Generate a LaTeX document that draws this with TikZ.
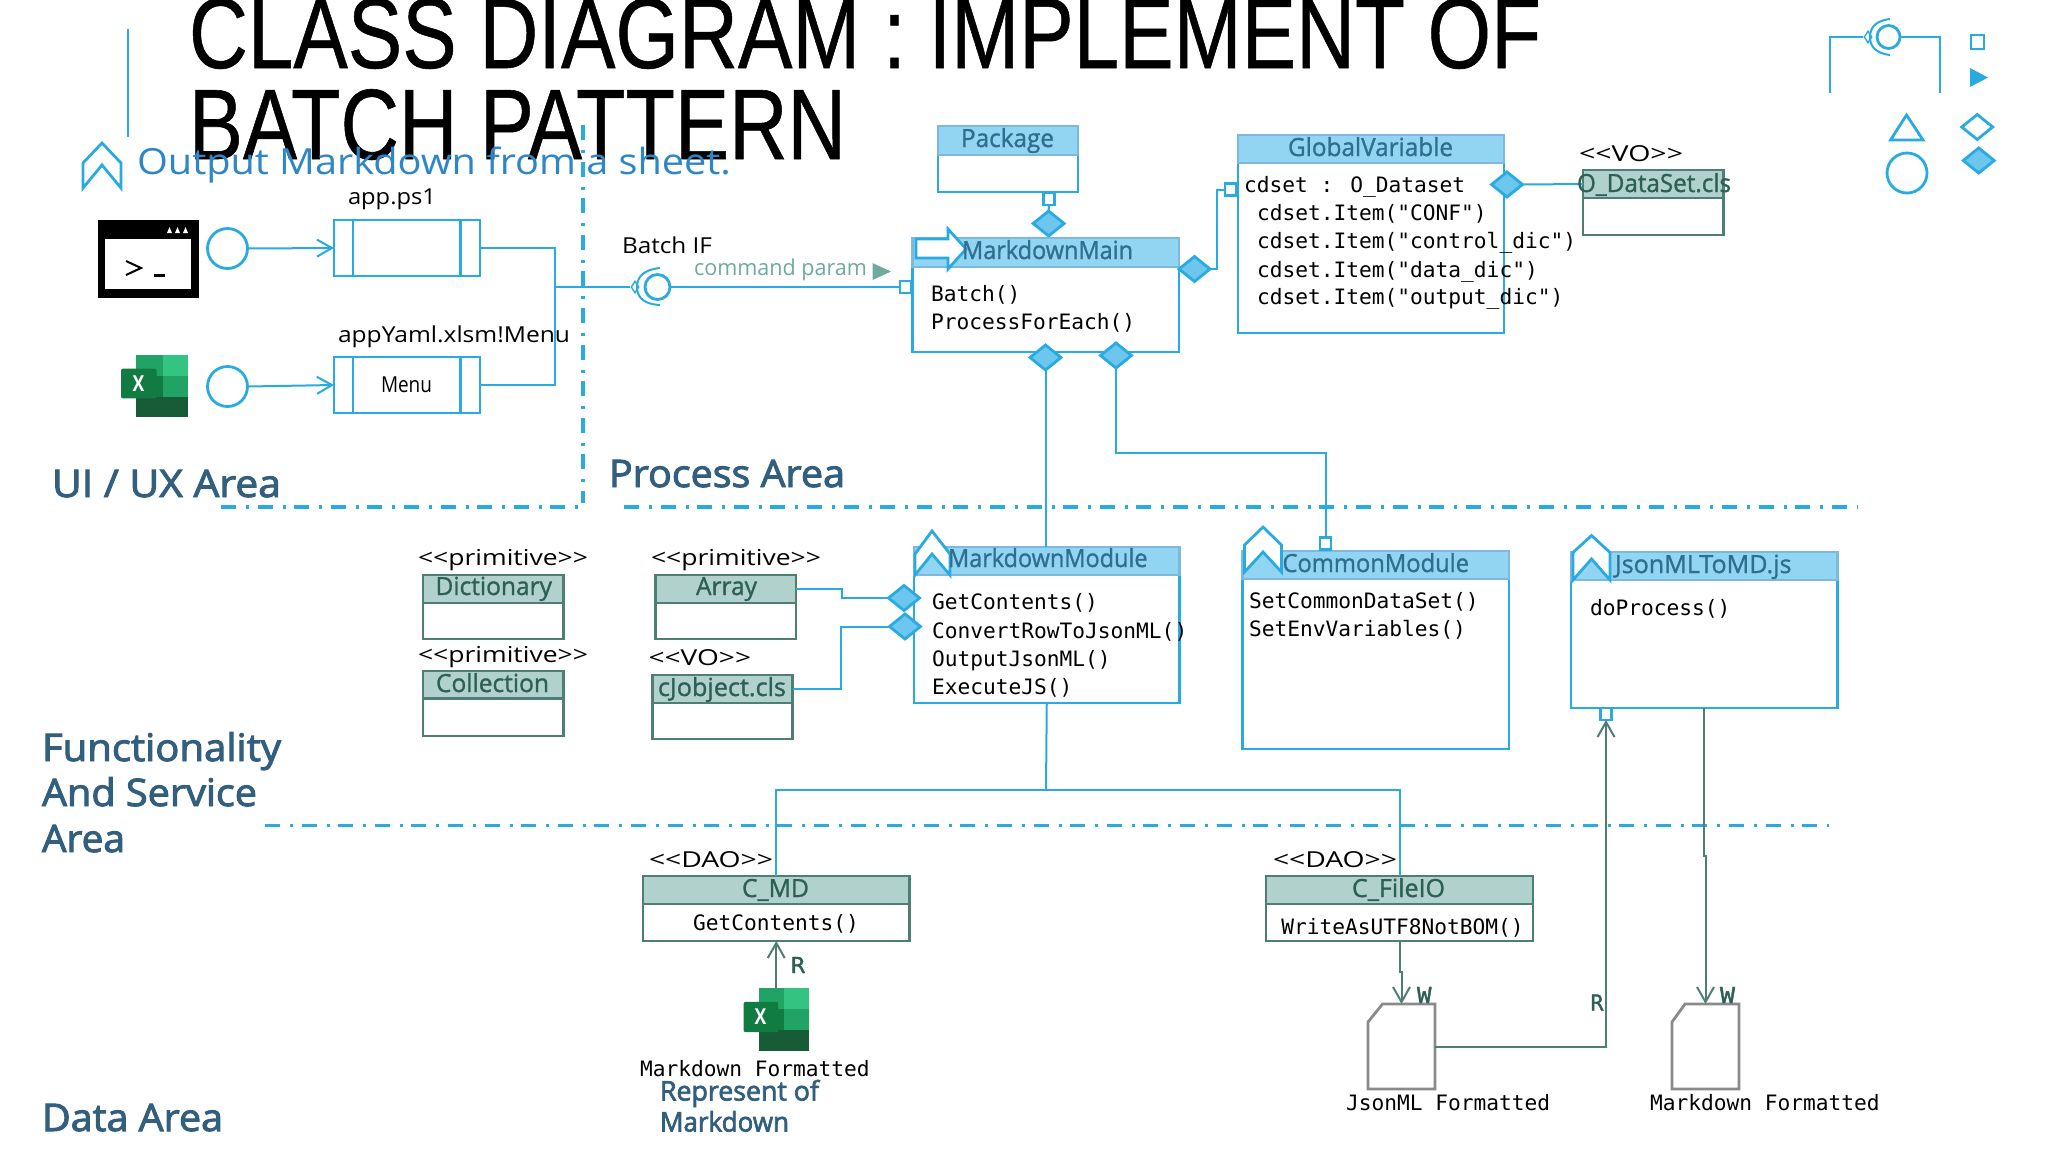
\documentclass[tikz,border=0pt]{standalone}
\usepackage{graphicx}
\usepackage{fontspec}
\usetikzlibrary{shapes.geometric,arrows.meta}
\newfontfamily\ftit{Liberation Sans}[FakeBold=0.6]
\newfontfamily\fsan{Open Sans}
\newfontfamily\fhed{Open Sans}[FakeBold=1.2]
\newfontfamily\fsec{Open Sans}[FakeBold=2.5]
\newfontfamily\fmon{DejaVu Sans Mono}
\newfontfamily\fmob{DejaVu Sans Mono}[FakeBold=1.5]
\definecolor{bl}{HTML}{29ABE2}
\definecolor{hb}{HTML}{92D5F3}
\definecolor{hbb}{HTML}{7DB9DC}
\definecolor{df}{HTML}{6CC6EE}
\definecolor{ht}{HTML}{2F6E90}
\definecolor{gh}{HTML}{B1D2CC}
\definecolor{gb}{HTML}{4F7F74}
\definecolor{gt}{HTML}{2E5F55}
\definecolor{sc}{HTML}{325F7D}
\definecolor{ou}{HTML}{2E86C7}
\definecolor{cp}{HTML}{6FAA9C}
\definecolor{dg}{HTML}{8A8A8A}
\tikzset{
  txt/.style={anchor=base west,inner sep=0pt,outer sep=0pt},
  title/.style={txt,font=\ftit\fontsize{50}{52}\selectfont,text=black},
  sect/.style={txt,font=\fsec\fontsize{19}{22}\selectfont,text=sc},
  outp/.style={txt,font=\fsan\fontsize{18}{22}\selectfont,text=ou},
  lab/.style={txt,font=\fsan\fontsize{11}{12}\selectfont,text=black},
  mono/.style={txt,font=\fmon\fontsize{10.6}{12}\selectfont,text=black},
  headb/.style={txt,font=\fhed\fontsize{12.5}{14}\selectfont,text=ht},
  headg/.style={txt,font=\fhed\fontsize{12.5}{14}\selectfont,text=gt},
  rw/.style={txt,font=\fmob\fontsize{11}{12}\selectfont,text=gt},
  bodyB/.style={draw=bl,fill=white,line width=1.4pt},
  bodyG/.style={draw=gb,fill=white,line width=1.4pt},
  headB/.style={draw=hbb,fill=hb,line width=1.4pt},
  headG/.style={draw=gb,fill=gh,line width=1.4pt},
  conn/.style={draw=bl,line width=1pt},
  gconn/.style={draw=gb,line width=1pt},
  barb/.style={-{Straight Barb[length=7.5pt,width=8.5pt,line width=1pt]}},
  dadot/.style={draw=bl,line width=1.8pt,dash pattern=on 7.5pt off 5pt on 1.5pt off 4.3pt},
  dia/.style={shape=diamond,draw=bl,fill=df,line width=1.4pt,inner sep=0pt,outer sep=0pt,minimum width=15.5pt,minimum height=12.5pt},
  sqr/.style={draw=bl,fill=white,line width=1.4pt,inner sep=0pt,outer sep=0pt,minimum width=5.5pt,minimum height=6pt},
  circ/.style={shape=circle,draw=bl,fill=white,line width=1.4pt,inner sep=0pt,outer sep=0pt,minimum size=20pt},
  chev/.style={draw=bl,fill=white,line width=1.4pt,line join=miter},
  hid/.style={inner sep=0pt,outer sep=0pt},
}
\newcommand\tlab[6][lab]{%
  \pgfmathsetlengthmacro\wtmp{(#4-#3)*0.5pt}%
  \node[#1] (#2) at (#3,#5) {\resizebox{\wtmp}{\height}{#6}};}
\newcommand\rectn[7][]{% style name x1 x2 y1 y2
  \node[anchor=north west,inner sep=0pt,outer sep=0pt,minimum width={(#4-#3)*0.5pt},minimum height={(#6-#5)*0.5pt},#1] (#2) at (#3,#5) {};}
\newcommand\classb[7]{% kind name x1 x2 ytop ymid ybot
  \rectn[body#1]{#2B}{#3}{#4}{#6}{#7}{}
  \rectn[head#1]{#2H}{#3}{#4}{#5}{#6}{}}
\newcommand\chevron[8]{% x1 xm x2 ytop yshoulder ynotch ybot
  \draw[chev] (#1,#7) -- (#1,#5) -- (#2,#4) -- (#3,#5) -- (#3,#7) -- (#2,#6) -- cycle;}
\newcommand\excelicon[5]{%
  \rectn{#1}{#2}{#4}{#3}{#5}{}
  \begin{scope}[shift={(#2,#3)},xscale={(#4-#2)/100},yscale={(#5-#3)/100}]
    \fill[fill={rgb,255:red,33;green,163;blue,102}] (23,0) rectangle (62,34);
    \fill[fill={rgb,255:red,51;green,196;blue,129}] (62,0) rectangle (100,34);
    \fill[fill={rgb,255:red,16;green,124;blue,65}] (23,34) rectangle (62,67);
    \fill[fill={rgb,255:red,33;green,163;blue,102}] (62,34) rectangle (100,67);
    \fill[fill={rgb,255:red,24;green,92;blue,55}] (23,67) rectangle (100,100);
    \fill[fill={rgb,255:red,16;green,124;blue,65},rounded corners=1pt] (0,22) rectangle (53,70);
    \node[hid,text=white,font=\fsan\bfseries\fontsize{11}{11}\selectfont] (#1x) at (26,46) {\scalebox{0.8}[1]{X}};
  \end{scope}}
\newcommand\docn[4]{% name x1 x2 ycorner
  \draw[draw=dg,fill=white,line width=1.4pt] (#3,1004) -- (#4,1004) -- (#2,1022) -- (#2,1089) -- (#3,1089) -- cycle;
  }
\begin{document}
\begin{tikzpicture}[x=0.5pt,y=-0.5pt]
\useasboundingbox[fill=white] (0,0) rectangle (2048,1152);
% title
\draw[draw=bl,line width=1.4pt] (128,29) -- (128,137);
\tlab[title]{t1}{189}{1541}{68}{CLASS DIAGRAM : IMPLEMENT OF}
\tlab[title]{t2}{189}{846}{159}{BATCH PATTERN}
\draw[chev,fill=none] (83,188) -- (83,163) -- (102,143) -- (121,163) -- (121,188) -- (102,165) -- cycle;
\tlab[outp]{t3}{137}{731}{174}{Output Markdown from a sheet.}
% section lines
\draw[dadot] (583,125) -- (583,503);
\draw[dadot] (221,507) -- (578,507);
\draw[dadot] (624,507) -- (1858,507);
\draw[dadot] (265,825.5) -- (1829,825.5);
% section labels
\tlab[sect]{s1}{52}{281}{497}{UI / UX Area}
\tlab[sect]{s2}{609}{845}{487}{Process Area}
\tlab[sect]{s3}{42}{281}{761}{Functionality}
\tlab[sect]{s4}{42}{257}{806}{And Service}
\tlab[sect]{s5}{42}{125}{852}{Area}
\tlab[sect]{s6}{42}{223}{1131}{Data Area}
% terminal icon
\rectn[fill=black]{term}{98}{198.5}{220}{298}{}
\fill[white] (104.5,239) rectangle (191,289);
\fill[white] (167,233) -- (169.5,227) -- (172,233) -- cycle (175,233) -- (177.5,227) -- (180,233) -- cycle (183,233) -- (185.5,227) -- (188,233) -- cycle;
\draw[black,line width=1pt] (126,261) -- (141,268) -- (126,275);
\fill[black] (153.5,273.5) rectangle (165,277);
% excel
\excelicon{xlA}{121}{355}{188}{417}
% UI boxes
\node[circ] (c1) at (227.5,248.5) {};
\node[circ] (c2) at (227.5,386.5) {};
\rectn[bodyB]{appBox}{334}{480}{220}{276}{}
\rectn[bodyB]{menuBox}{334}{480}{357}{413}{}
\draw[draw=bl,line width=1.4pt] (353,220) -- (353,276) (460.5,220) -- (460.5,276) (353,357) -- (353,413) (460.5,357) -- (460.5,413);
\tlab{lApp}{348}{436}{204}{app.ps1}
\tlab{lYaml}{338}{570}{342}{appYaml.xlsm!Menu}
\tlab{lMenu}{381}{432}{392}{Menu}
\draw[conn,barb] (c1.east) -- (appBox.west);
\draw[conn,barb] (c2.east) -- (menuBox.west);
% socket
\coordinate (bus) at (554.5,287);
\node[circ,minimum size=12.5pt] (sock) at (657.5,287) {};
\node[shape=diamond,draw=bl,fill=white,line width=.7pt,inner sep=0pt,minimum width=4pt,minimum height=6pt] (sockD) at (635,287) {};
\draw[draw=bl,line width=1pt] (660,268) .. controls (640,270) and (637,280) .. (637,287) .. controls (637,294) and (640,304) .. (660,305);
\draw[conn] (appBox.east) -| (bus);
\draw[conn] (menuBox.east) -| (bus);
\draw[conn] (bus) -- (sockD.west);
\tlab{lBatch}{622}{712}{253}{Batch IF}
\tlab[txt,font=\fsan\fontsize{11}{12}\selectfont,text=cp]{lCmd}{694}{867}{275}{command param}
\fill[cp] (872.5,263) -- (891,271.5) -- (872.5,280) -- cycle;
% Package
\classb{B}{pkg}{938}{1078}{126}{155}{192}
\tlab[headb]{lPkg}{961}{1054}{147}{Package}
\node[sqr] (sqPkg) at (1049,199) {};
\node[dia] (dPkg) at (1048.6,223.5) {};
\draw[conn] (sqPkg.south) -- (dPkg.north);
% Main
\classb{B}{main}{912.5}{1179}{238}{267}{352}
\node[sqr] (sqMain) at (905.5,287) {};
\draw[conn] (sock.east) -- (sqMain.west);
\draw[draw=bl,fill=white,line width=1.4pt] (916,239) -- (948,239) -- (948,229) -- (966,249) -- (948,269) -- (948,258) -- (916,258) -- cycle;
\tlab[headb]{lMain}{962}{1133}{259}{MarkdownMain}
\node[mono] (mBatch) at (931,301.5) {Batch()};
\node[mono] (mPFE) at (931,329) {ProcessForEach()};
\node[dia] (dMainA) at (1045.5,357.5) {};
\node[dia] (dMainB) at (1116,355.5) {};
\node[dia] (dMainC) at (1194.5,269) {};
% GlobalVariable
\classb{B}{gv}{1238}{1504}{135}{163}{333}
\tlab[headb]{lGV}{1288}{1453}{156}{GlobalVariable}
\node[sqr] (sqGV) at (1230.5,189.5) {};
\coordinate (k1) at (1217,269);
\draw[conn] (dMainC.east) -- (k1) |- (sqGV.west);
\node[mono] (g1) at (1244,192) {cdset : O\_Dataset};
\node[mono] (g2) at (1257,220) {cdset.Item("CONF")};
\node[mono] (g3) at (1257,248) {cdset.Item("control\_dic")};
\node[mono] (g4) at (1257,277) {cdset.Item("data\_dic")};
\node[mono] (g5) at (1257,304) {cdset.Item("output\_dic")};
\node[dia] (dGV) at (1507,184.5) {};
% O_DataSet
\classb{G}{ds}{1583}{1723.5}{170}{198}{235}
\draw[conn] (dGV.east) -- (dsH.west);
\tlab{lVO1}{1579}{1683}{161}{{<}{<}VO{>}{>}}
\tlab[headg]{lDS}{1577}{1731}{192}{O\_DataSet.cls}
% legend
\coordinate (le1) at (1830,93);
\coordinate (le2) at (1940,93);
\node[circ,minimum size=11.5pt] (leC) at (1888.5,37) {};
\node[shape=diamond,draw=bl,fill=white,line width=.7pt,inner sep=0pt,minimum width=4pt,minimum height=6pt] (leD) at (1868,37) {};
\draw[draw=bl,line width=1pt] (1890,19) .. controls (1873,21) and (1870,30) .. (1870,37) .. controls (1870,44) and (1873,53) .. (1890,55);
\draw[conn] (le1) |- (leD.west);
\draw[conn] (le2) |- (leC.east);
\node[sqr,minimum width=6.5pt,minimum height=7pt] (leS) at (1977.5,42) {};
\fill[bl] (1970,68) -- (1988,77.5) -- (1970,87) -- cycle;
\draw[draw=bl,line width=1.4pt] (1906.5,115) -- (1923,140) -- (1890.5,140) -- cycle;
\node[dia,fill=white] (leD1) at (1977.2,127) {};
\node[dia] (leD2) at (1978.7,160.5) {};
\node[circ] (leC2) at (1907,173) {};
% primitives
\tlab{lp1}{418}{588}{565}{{<}{<}primitive{>}{>}}
\classb{G}{dict}{423}{563.5}{575}{603}{639}
\tlab[headg]{lDict}{435.5}{552}{595}{Dictionary}
\tlab{lp2}{418}{588}{662}{{<}{<}primitive{>}{>}}
\classb{G}{coll}{423}{563.5}{671}{698.5}{736}
\tlab[headg]{lColl}{436}{549}{692}{Collection}
\tlab{lp3}{651}{821}{565}{{<}{<}primitive{>}{>}}
\classb{G}{arr}{655.5}{796}{575}{603}{639}
\tlab[headg]{lArr}{696}{757}{595}{Array}
\tlab{lVO2}{648.5}{751}{665}{{<}{<}VO{>}{>}}
\classb{G}{cj}{652.5}{792.5}{675}{703}{739}
\tlab[headg]{lCj}{658}{786}{696}{cJobject.cls}
% Module
\classb{B}{mm}{914}{1179.5}{547}{575}{703}
\chevron{915}{932}{950}{531}{554}{554}{575}{}
\tlab[headb]{lMM}{948}{1147.5}{567}{MarkdownModule}
\node[mono] (mm1) at (932,609) {GetContents()};
\node[mono] (mm2) at (932,638) {ConvertRowToJsonML()};
\node[mono] (mm3) at (932,666) {OutputJsonML()};
\node[mono] (mm4) at (932,694) {ExecuteJS()};
\node[dia] (dM1) at (904,598) {};
\node[dia] (dM2) at (905,626.5) {};
\coordinate (k3) at (842,589);
\coordinate (k4) at (841,689);
\draw[conn] (arrH.east) -- (k3) |- (dM1.west);
\draw[conn] (cjH.east) -- (k4) |- (dM2.west);
\draw[conn] (dMainA.south) -- (dMainA.south |- mmH.north);
% Common
\classb{B}{cm}{1242.5}{1509}{551}{579}{749}
\chevron{1244.5}{1263}{1281.5}{527}{545}{552}{572}{}
\tlab[headb]{lCM}{1282.5}{1469}{572}{CommonModule}
\node[sqr] (sqCM) at (1325.5,543.5) {};
\coordinate (k2) at (1116,452.5);
\draw[conn] (dMainB.south) -- (k2) -| (sqCM.north);
\node[mono] (cm1) at (1249,608) {SetCommonDataSet()};
\node[mono] (cm2) at (1249,636) {SetEnvVariables()};
% Json
\classb{B}{js}{1571}{1837.5}{552}{580}{708}
\chevron{1573}{1591.5}{1610}{535.5}{552.5}{559}{580}{}
\tlab[headb]{lJS}{1615}{1791.5}{573}{JsonMLToMD.js}
\node[mono] (js1) at (1590,615) {doProcess()};
\node[sqr] (sqJ) at (1606,714) {};
% DAO
\tlab{lD1}{649}{773}{867}{{<}{<}DAO{>}{>}}
\tlab{lD2}{1273}{1397}{867}{{<}{<}DAO{>}{>}}
\classb{G}{cmd}{643}{909.5}{876}{904}{941}
\tlab[headg]{lCMD}{742}{809}{897}{C\_MD}
\node[mono,anchor=base] (cmd1) at (776,930) {GetContents()};
\classb{G}{fio}{1266}{1533}{876}{904}{941}
\tlab[headg]{lFIO}{1352}{1445}{897}{C\_FileIO}
\node[mono,anchor=base] (fio1) at (1402.5,934) {WriteAsUTF8NotBOM()};
\coordinate (k5) at (1046,789.5);
\draw[conn] (mmB.south) -- (k5);
\draw[conn] (cmdH.north) |- (k5) -| (fioH.north);
% data
\excelicon{xlB}{743.5}{988}{809}{1051}
\draw[gconn,barb] (xlB.north) -- (cmdB.south);
\tlab[rw]{lR1}{791}{805}{973}{R}
\node[mono] (mdf1) at (640,1076) {Markdown Formatted};
\tlab[sect,font=\fsec\fontsize{13.5}{16}\selectfont]{lRep}{660}{819}{1100.5}{Represent of}
\tlab[sect,font=\fsec\fontsize{13.5}{16}\selectfont]{lMd}{660}{789}{1131.5}{Markdown}
\docn{doc1}{1368}{1435}{1382.5}
\docn{doc2}{1672}{1739}{1685}
\rectn{doc1}{1368}{1435}{1004}{1089}{}
\rectn{doc2}{1672}{1739}{1004}{1089}{}
\coordinate (k6) at (1401.5,972);
\coordinate (k7) at (1705.5,856);
\draw[gconn,barb] (fioB.south) |- (k6) -- (doc1.north);
\draw[gconn,barb] (jsB.south) |- (k7) -- (doc2.north);
\draw[gconn,barb] (doc1.east) -| (sqJ.south);
\tlab[rw]{lW1}{1417}{1431.5}{1003}{W}
\tlab[rw]{lW2}{1720}{1735}{1003}{W}
\tlab[rw]{lR2}{1590.5}{1603.5}{1010.5}{R}
\node[mono] (jf) at (1346,1110.5) {JsonML Formatted};
\node[mono] (mf) at (1650,1110.5) {Markdown Formatted};
\end{tikzpicture}
\end{document}
